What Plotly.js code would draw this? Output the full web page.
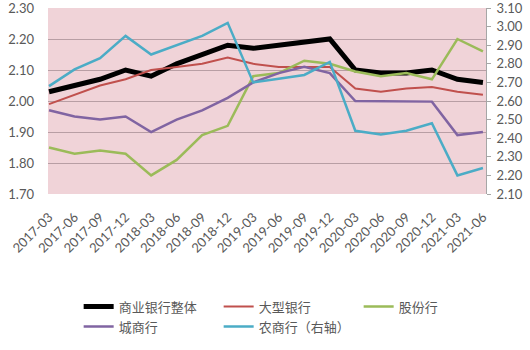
<!DOCTYPE html>
<html>
<head>
<meta charset="utf-8">
<script src="https://cdn.plot.ly/plotly-3.0.1.min.js"></script>
<style>html,body{margin:0;padding:0;background:#fff;}#chart{width:530px;height:350px;}</style>
</head>
<body>
<div id="chart"></div>
<script>
const categories = ["2017-03","2017-06","2017-09","2017-12","2018-03","2018-06","2018-09","2018-12","2019-03","2019-06","2019-09","2019-12","2020-03","2020-06","2020-09","2020-12","2021-03","2021-06"];
const overall = [2.03,2.05,2.07,2.10,2.08,2.12,2.15,2.18,2.17,2.18,2.19,2.20,2.10,2.09,2.09,2.10,2.07,2.06];
const large   = [1.99,2.02,2.05,2.07,2.10,2.11,2.12,2.14,2.12,2.11,2.11,2.11,2.04,2.03,2.04,2.045,2.03,2.02];
const joint   = [1.85,1.83,1.84,1.83,1.76,1.81,1.89,1.92,2.08,2.09,2.13,2.12,2.095,2.08,2.09,2.07,2.20,2.16];
const city    = [1.97,1.95,1.94,1.95,1.90,1.94,1.97,2.01,2.06,2.09,2.11,2.09,2.00,2.00,2.00,1.998,1.89,1.90];
const rural   = [2.68,2.77,2.83,2.95,2.85,2.90,2.95,3.02,2.70,2.72,2.74,2.81,2.44,2.42,2.44,2.48,2.20,2.24];
const seriesNames = ["商业银行整体","大型银行","股份行","城商行","农商行（右轴）"];
const colors = ["#000000","#c0504d","#9bbb59","#8064a2","#4bacc6"];

const data = [
  {x:categories, y:overall, name:seriesNames[0], type:'scatter', mode:'lines', line:{color:colors[0], width:5}},
  {x:categories, y:large, name:seriesNames[1], type:'scatter', mode:'lines', line:{color:colors[1], width:2}},
  {x:categories, y:joint, name:seriesNames[2], type:'scatter', mode:'lines', line:{color:colors[2], width:2.5}},
  {x:categories, y:city, name:seriesNames[3], type:'scatter', mode:'lines', line:{color:colors[3], width:2.5}},
  {x:categories, y:rural, name:seriesNames[4], type:'scatter', mode:'lines', yaxis:'y2', line:{color:colors[4], width:2.5}}
];

const tickFont = {family:'Lato, "Open Sans", sans-serif', size:13, color:'#595959'};
const layout = {
  width:530, height:350,
  margin:{l:48, r:44, t:8, b:117},
  paper_bgcolor:'#ffffff',
  plot_bgcolor:'#f0d3d8',
  showlegend:true,
  legend:{orientation:'h', x:0.07, xanchor:'left', y:-0.525, yanchor:'top',
          font:{family:'"Noto Sans CJK SC", sans-serif', size:13, color:'#595959'},
          entrywidth:95, entrywidthmode:'pixels', itemwidth:30, tracegroupgap:0,
          bgcolor:'rgba(0,0,0,0)'},
  xaxis:{type:'category', range:[-0.04, 17.12], tickangle:-45, tickfont:tickFont,
         showgrid:false, showline:false, ticks:'', zeroline:false, fixedrange:true,
         ticklabelstandoff:12, ticklabeloverflow:'allow'},
  yaxis:{range:[1.70, 2.30], dtick:0.1, tick0:1.70, tickformat:'.2f', tickfont:tickFont,
         showgrid:true, gridcolor:'#b89ea4', gridwidth:1, showline:false, ticks:'',
         zeroline:false, ticklabelstandoff:13, ticklabeloverflow:'allow'},
  yaxis2:{range:[2.10, 3.10], dtick:0.1, tick0:2.10, tickformat:'.2f', tickfont:tickFont,
          overlaying:'y', side:'right', showgrid:false, showline:true, linecolor:'#a6a6a6',
          ticks:'outside', ticklen:4, tickcolor:'#a6a6a6', zeroline:false, ticklabelstandoff:3,
          ticklabeloverflow:'allow'}
};
Plotly.newPlot('chart', data, layout, {displayModeBar:false, staticPlot:true});
</script>
</body>
</html>
